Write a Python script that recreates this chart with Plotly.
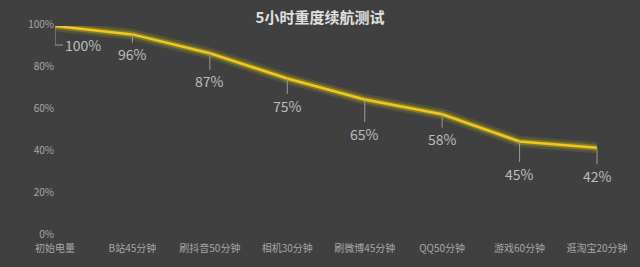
import plotly.graph_objects as go

categories = ["初始电量", "B站45分钟", "刷抖音50分钟", "相机30分钟", "刷微博45分钟", "QQ50分钟", "游戏60分钟", "逛淘宝20分钟"]
battery = [100, 96, 87, 75, 65, 58, 45, 42]
label_offsets = [19, 20, 28, 27, 34, 25, 32, 28]
y_ticks = [0, 20, 40, 60, 80, 100]
y_tick_labels = ["0%", "20%", "40%", "60%", "80%", "100%"]

FONT = "Noto Sans CJK SC"
xs = list(range(len(categories)))

fig = go.Figure()
# glow
fig.add_trace(go.Scatter(x=xs, y=battery, mode="lines",
                         line=dict(color="rgba(200,190,20,0.16)", width=11),
                         hoverinfo="skip", showlegend=False))
fig.add_trace(go.Scatter(x=xs, y=battery, mode="lines",
                         line=dict(color="rgba(215,200,20,0.33)", width=6),
                         hoverinfo="skip", showlegend=False))
fig.add_trace(go.Scatter(x=xs, y=battery, mode="lines",
                         line=dict(color="#f2c81e", width=2.5),
                         showlegend=False))

annotations = []
shapes = []
for i, (v, off) in enumerate(zip(battery, label_offsets)):
    if i == 0:
        shapes.append(dict(type="path", xref="x", yref="y", xsizemode="pixel", ysizemode="pixel",
                           xanchor=i, yanchor=v, path=f"M0,0 L0,{-off} L8,{-off}",
                           line=dict(color="#9a9a9a", width=1)))
        annotations.append(dict(x=i, y=v, xref="x", yref="y", text=f"{v}%", showarrow=False,
                                xshift=28, yshift=-off,
                                font=dict(family=FONT, size=14, color="#bdbdbd")))
    else:
        annotations.append(dict(x=i, y=v, xref="x", yref="y", text=f"{v}%", showarrow=True,
                                ax=0, ay=off, arrowhead=0, arrowwidth=1, arrowcolor="#9a9a9a",
                                font=dict(family=FONT, size=14, color="#bdbdbd")))

fig.update_layout(
    width=640, height=267,
    paper_bgcolor="#404040", plot_bgcolor="#404040",
    margin=dict(l=55, r=43, t=26, b=31),
    title=dict(text="<b>5小时重度续航测试</b>", x=0.5, xanchor="center", y=0.935, yanchor="middle",
               font=dict(family=FONT, size=15, color="#e0e0e0")),
    xaxis=dict(range=[0, len(categories) - 1], tickmode="array", tickvals=xs, ticktext=categories,
               showgrid=False, zeroline=False, showline=False, ticks="", ticklabelstandoff=5,
               automargin=False,
               tickfont=dict(family=FONT, size=10, color="#a8a8a8")),
    yaxis=dict(range=[0, 100], tickmode="array", tickvals=y_ticks, ticktext=y_tick_labels,
               showgrid=False, zeroline=False, showline=False, ticks="", ticklabelshift=-2,
               automargin=False,
               tickfont=dict(family=FONT, size=10, color="#a8a8a8")),
    annotations=annotations,
    shapes=shapes,
)

fig.write_html("out.html")
